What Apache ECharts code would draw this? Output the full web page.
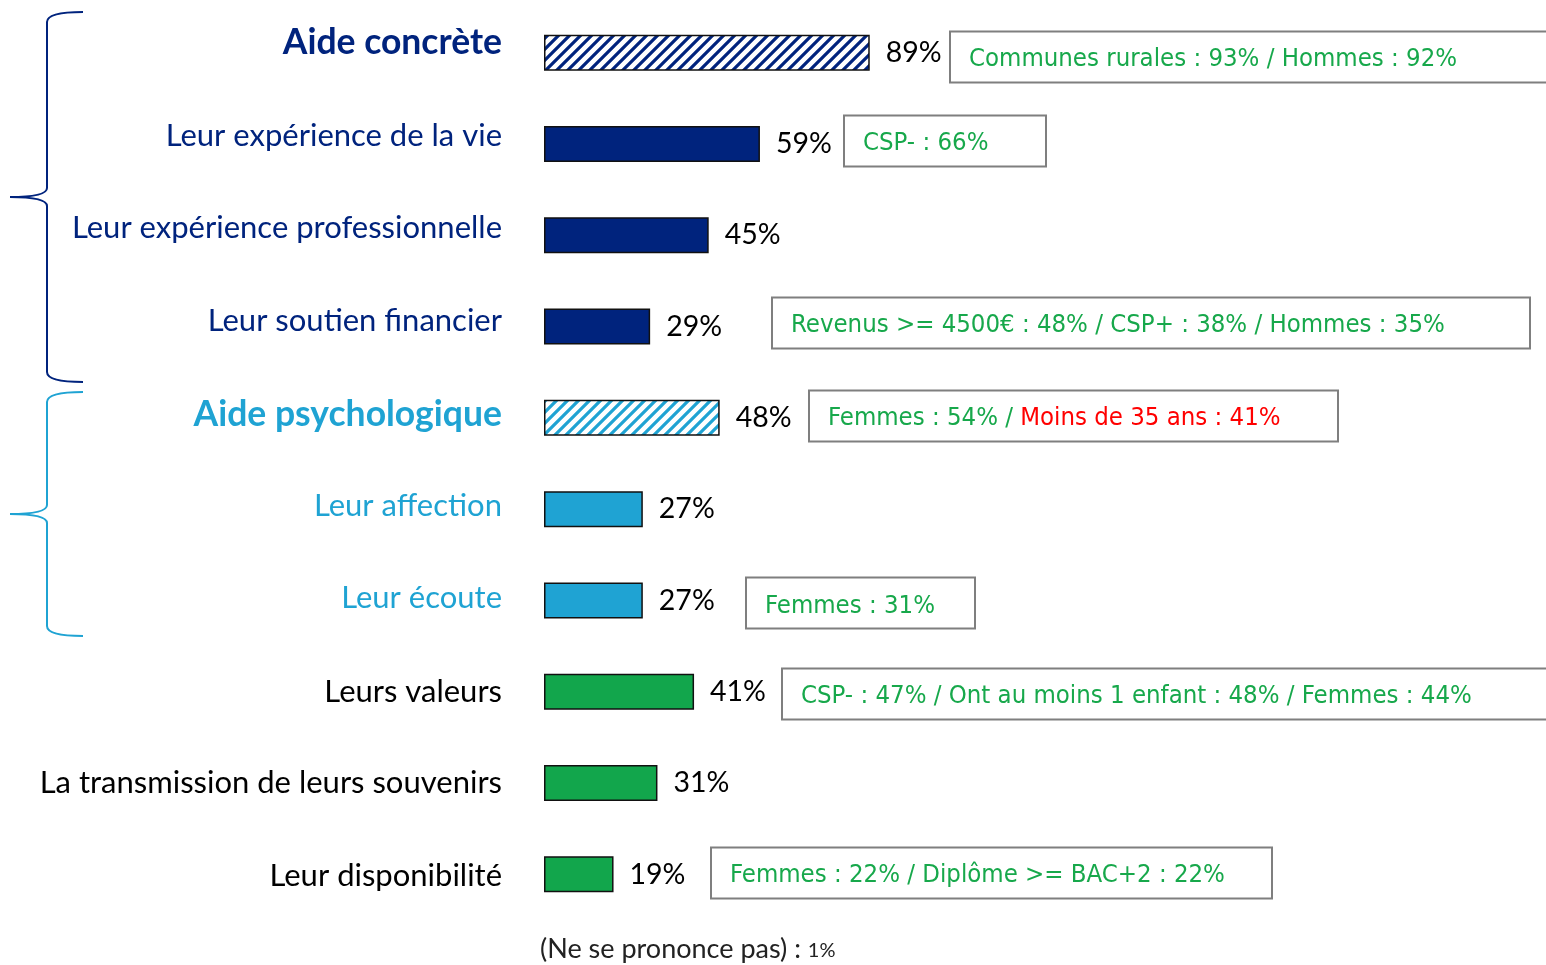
<!DOCTYPE html>
<html>
<head>
<meta charset="utf-8">
<script src="https://cdn.jsdelivr.net/npm/echarts@6/dist/echarts.min.js"></script>
<style>
  html, body { margin: 0; padding: 0; background: #ffffff; }
  #chart { width: 1546px; height: 965px; }
</style>
</head>
<body>
<div id="chart"></div>
<script>
// ---------- DATA ----------
const categories = [
  'Aide concrète',
  'Leur expérience de la vie',
  'Leur expérience professionnelle',
  'Leur soutien financier',
  'Aide psychologique',
  'Leur affection',
  'Leur écoute',
  'Leurs valeurs',
  'La transmission de leurs souvenirs',
  'Leur disponibilité'
];
const values = [89, 59, 45, 29, 48, 27, 27, 41, 31, 19];
// group of each row: 'concrete' | 'psy' | 'other'
const groups = ['concrete', 'concrete', 'concrete', 'concrete', 'psy', 'psy', 'psy', 'other', 'other', 'other'];
// header rows (hatched total bars)
const isHeader = [true, false, false, false, true, false, false, false, false, false];
// sub-population notes per row: list of [text, tone]
const notes = [
  [['Communes rurales : 93% / Hommes : 92%', 'g']],
  [['CSP- : 66%', 'g']],
  [],
  [['Revenus >= 4500€ : 48% / CSP+ : 38% / Hommes : 35%', 'g']],
  [['Femmes : 54% / ', 'g'], ['Moins de 35 ans : 41%', 'r']],
  [],
  [['Femmes : 31%', 'g']],
  [['CSP- : 47% / Ont au moins 1 enfant : 48% / Femmes : 44%', 'g']],
  [],
  [['Femmes : 22% / Diplôme >= BAC+2 : 22%', 'g']]
];
const footnoteText = '(Ne se prononce pas) : ';
const footnoteValue = '1%';

// ---------- STYLE / LAYOUT ----------
const NAVY = '#00237D';
const BLUE = '#1FA3D3';
const GREEN = '#12A64C';
const NOTE_GREEN = '#17A84B';
const NOTE_RED = '#FF0000';
const groupColor = { concrete: NAVY, psy: BLUE, other: GREEN };
const labelColor = { concrete: NAVY, psy: BLUE, other: '#000000' };
const FONT = 'Lato, "Open Sans", sans-serif';
const NOTE_FONT = '"DejaVu Sans Condensed", "DejaVu Sans", sans-serif';
// note box placement (left px, width px, vertical shift px) per row
const noteBox = [
  [950, 640, 4], [844, 202, -3.5], null, [772, 758, -4.5], [809, 529, -2.5],
  null, [746, 229, 2.5], [782, 800, 1.5], null, [711, 561, -1.5]
];
const labelShift = [-10, -8, -7, -6, -3, -3, -2, 0, 0, 2];

function hatch(color) {
  const s = 11;
  const c = document.createElement('canvas');
  c.width = s; c.height = s;
  const ctx = c.getContext('2d');
  ctx.fillStyle = '#ffffff';
  ctx.fillRect(0, 0, s, s);
  ctx.strokeStyle = color;
  ctx.lineWidth = 3.2;
  ctx.beginPath();
  ctx.moveTo(-2, 2); ctx.lineTo(2, -2);
  ctx.moveTo(0, s); ctx.lineTo(s, 0);
  ctx.moveTo(s - 2, s + 2); ctx.lineTo(s + 2, s - 2);
  ctx.stroke();
  return { image: c, repeat: 'repeat' };
}

const barData = values.map((v, i) => ({
  value: v,
  itemStyle: {
    color: isHeader[i] ? hatch(groupColor[groups[i]]) : groupColor[groups[i]]
  }
}));

const rich = {};
categories.forEach((c, i) => {
  rich['r' + i] = {
    fontFamily: FONT,
    fontSize: isHeader[i] ? 35.5 : 31,
    fontWeight: isHeader[i] ? 'bold' : 'normal',
    color: labelColor[groups[i]],
    padding: [0, 0, -2 * labelShift[i], 0]
  };
});

const chart = echarts.init(document.getElementById('chart'), null, { renderer: 'canvas' });

chart.setOption({
  animation: false,
  backgroundColor: '#ffffff',
  grid: { left: 544, top: 7, width: 366, height: 913, containLabel: false },
  xAxis: { type: 'value', min: 0, max: 100, show: false },
  yAxis: {
    type: 'category',
    inverse: true,
    data: categories,
    axisLine: { show: false },
    axisTick: { show: false },
    splitLine: { show: false },
    axisLabel: {
      margin: 42,
      formatter: (val, idx) => '{r' + idx + '|' + val + '}',
      rich: rich
    }
  },
  series: [{
    type: 'bar',
    data: barData,
    barWidth: 36,
    itemStyle: { borderColor: '#111111', borderWidth: 1.5 },
    label: {
      show: true,
      position: 'right',
      distance: 16,
      formatter: '{c}%',
      fontFamily: FONT,
      fontSize: 28.5,
      color: '#000000'
    }
  }]
});

// ---------- annotations via graphic ----------
const graphics = [];
function brace(top, tip, bottom, color) {
  const st = { stroke: color, lineWidth: 2, fill: null };
  const xr = 83, xv = 47, xt = 10, r = 10;
  return [
    { type: 'bezierCurve', shape: { x1: xr, y1: top, x2: xv, y2: top + r, cpx1: xv, cpy1: top }, style: st },
    { type: 'line', shape: { x1: xv, y1: top + r, x2: xv, y2: tip - 9 }, style: st },
    { type: 'bezierCurve', shape: { x1: xv, y1: tip - 9, x2: xt, y2: tip, cpx1: xv, cpy1: tip }, style: st },
    { type: 'bezierCurve', shape: { x1: xt, y1: tip, x2: xv, y2: tip + 9, cpx1: xv, cpy1: tip }, style: st },
    { type: 'line', shape: { x1: xv, y1: tip + 9, x2: xv, y2: bottom - r }, style: st },
    { type: 'bezierCurve', shape: { x1: xv, y1: bottom - r, x2: xr, y2: bottom, cpx1: xv, cpy1: bottom }, style: st }
  ];
}
graphics.push(...brace(12, 197, 382, NAVY));
graphics.push(...brace(392, 514, 636, BLUE));

const NOTE_SIZE = 25.5;
const noteRich = {
  g: { fill: NOTE_GREEN, fontFamily: NOTE_FONT, fontSize: NOTE_SIZE },
  r: { fill: NOTE_RED, fontFamily: NOTE_FONT, fontSize: NOTE_SIZE }
};
notes.forEach((segs, i) => {
  if (!segs.length || !noteBox[i]) return;
  const cy = chart.convertToPixel({ yAxisIndex: 0 }, categories[i]) + noteBox[i][2];
  const [left, w] = noteBox[i];
  const h = 51;
  const txt = segs.map(s => '{' + s[1] + '|' + s[0].replace(/[{}|]/g, '') + '}').join('');
  graphics.push({
    type: 'rect',
    shape: { x: left, y: Math.round(cy - h / 2) + 0.5, width: w, height: h },
    style: { fill: '#ffffff', stroke: '#7F7F7F', lineWidth: 2 }
  });
  graphics.push({
    type: 'text',
    x: left + 19,
    y: cy + 3,
    style: {
      text: txt, rich: noteRich, verticalAlign: 'middle', align: 'left',
      fill: NOTE_GREEN, fontFamily: NOTE_FONT, fontSize: NOTE_SIZE
    }
  });
});

// footnote
graphics.push({
  type: 'text',
  x: 540,
  y: 949,
  style: {
    text: '{a|' + footnoteText + '}{b|' + footnoteValue + '}',
    verticalAlign: 'middle',
    fill: '#222222',
    fontFamily: FONT,
    fontSize: 26,
    rich: {
      a: { fontFamily: FONT, fontSize: 27, fill: '#222222' },
      b: { fontFamily: FONT, fontSize: 20, fill: '#222222', padding: [4, 0, 0, 0] }
    }
  }
});

chart.setOption({ graphic: graphics });
</script>
</body>
</html>
